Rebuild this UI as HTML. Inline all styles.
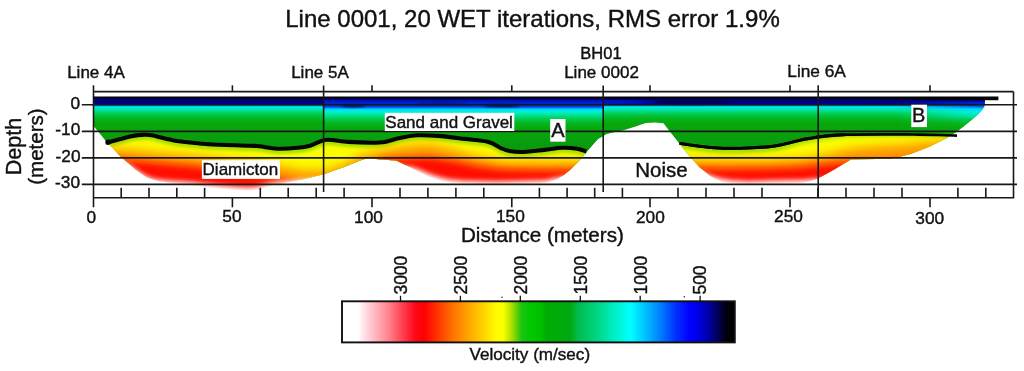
<!DOCTYPE html>
<html><head><meta charset="utf-8">
<style>
html,body{margin:0;padding:0;background:#fff;}
body{width:1024px;height:371px;overflow:hidden;position:relative;font-family:"Liberation Sans",sans-serif;}
svg{position:absolute;left:0;top:0;}
text{font-family:"Liberation Sans",sans-serif;fill:#111;stroke:#111;stroke-width:0.4px;}
svg{opacity:0.999;}
</style></head><body>
<svg width="1024" height="371" viewBox="0 0 1024 371">
<defs>
  <linearGradient id="cb" x1="0" y1="0" x2="1" y2="0">
    <stop offset="0" stop-color="#ffffff"/>
    <stop offset="0.04" stop-color="#ffffff"/>
    <stop offset="0.065" stop-color="#ffd4dc"/>
    <stop offset="0.115" stop-color="#ff8894"/>
    <stop offset="0.15" stop-color="#ff4858"/>
    <stop offset="0.186" stop-color="#ff0818"/>
    <stop offset="0.21" stop-color="#ff0000"/>
    <stop offset="0.24" stop-color="#ff3000"/>
    <stop offset="0.281" stop-color="#ff7000"/>
    <stop offset="0.311" stop-color="#ff9800"/>
    <stop offset="0.351" stop-color="#ffc800"/>
    <stop offset="0.396" stop-color="#ffff00"/>
    <stop offset="0.411" stop-color="#f8ff00"/>
    <stop offset="0.431" stop-color="#b0e000"/>
    <stop offset="0.458" stop-color="#18c410"/>
    <stop offset="0.478" stop-color="#00c800"/>
    <stop offset="0.506" stop-color="#00c000"/>
    <stop offset="0.522" stop-color="#00ac04"/>
    <stop offset="0.58" stop-color="#00a810"/>
    <stop offset="0.602" stop-color="#00bc50"/>
    <stop offset="0.654" stop-color="#00d888"/>
    <stop offset="0.695" stop-color="#00f0c8"/>
    <stop offset="0.735" stop-color="#00ffff"/>
    <stop offset="0.772" stop-color="#00c0ff"/>
    <stop offset="0.81" stop-color="#0080ff"/>
    <stop offset="0.85" stop-color="#0030ff"/>
    <stop offset="0.885" stop-color="#0000ff"/>
    <stop offset="0.9" stop-color="#0000f0"/>
    <stop offset="0.93" stop-color="#0000b0"/>
    <stop offset="0.955" stop-color="#000060"/>
    <stop offset="0.98" stop-color="#000008"/>
    <stop offset="1" stop-color="#000000"/>
  </linearGradient>
  <linearGradient id="top" x1="0" y1="96" x2="0" y2="160" gradientUnits="userSpaceOnUse">
    <stop offset="0.000" stop-color="#000070"/>
    <stop offset="0.117" stop-color="#000084"/>
    <stop offset="0.141" stop-color="#0050d8"/>
    <stop offset="0.156" stop-color="#00c0f0"/>
    <stop offset="0.180" stop-color="#00ecd8"/>
    <stop offset="0.227" stop-color="#00e098"/>
    <stop offset="0.281" stop-color="#00cc50"/>
    <stop offset="0.344" stop-color="#04b820"/>
    <stop offset="0.422" stop-color="#08a80c"/>
    <stop offset="0.609" stop-color="#08a00c"/>
    <stop offset="0.844" stop-color="#089810"/>
  </linearGradient>
  <linearGradient id="top2" x1="0" y1="96" x2="0" y2="160" gradientUnits="userSpaceOnUse">
    <stop offset="0.000" stop-color="#000070"/>
    <stop offset="0.047" stop-color="#000088"/>
    <stop offset="0.070" stop-color="#0010b0"/>
    <stop offset="0.102" stop-color="#0020d0"/>
    <stop offset="0.133" stop-color="#0028d8"/>
    <stop offset="0.169" stop-color="#0044e8"/>
    <stop offset="0.191" stop-color="#0098f4"/>
    <stop offset="0.212" stop-color="#00e0f4"/>
    <stop offset="0.250" stop-color="#00f0d0"/>
    <stop offset="0.297" stop-color="#00e490"/>
    <stop offset="0.359" stop-color="#00cc50"/>
    <stop offset="0.422" stop-color="#04b820"/>
    <stop offset="0.500" stop-color="#08a80c"/>
    <stop offset="0.656" stop-color="#08a00c"/>
    <stop offset="0.844" stop-color="#089810"/>
  </linearGradient>
  <linearGradient id="top3" x1="0" y1="96" x2="0" y2="160" gradientUnits="userSpaceOnUse">
    <stop offset="0.000" stop-color="#000070"/>
    <stop offset="0.062" stop-color="#000088"/>
    <stop offset="0.094" stop-color="#0018c0"/>
    <stop offset="0.141" stop-color="#0030e0"/>
    <stop offset="0.172" stop-color="#0078f0"/>
    <stop offset="0.203" stop-color="#00d8f8"/>
    <stop offset="0.250" stop-color="#00f0e8"/>
    <stop offset="0.312" stop-color="#00e8b0"/>
    <stop offset="0.375" stop-color="#00cc58"/>
    <stop offset="0.438" stop-color="#04b820"/>
    <stop offset="0.516" stop-color="#08a80c"/>
    <stop offset="0.656" stop-color="#08a00c"/>
  </linearGradient>
  <linearGradient id="m2g" x1="323.6" y1="0" x2="603.2" y2="0" gradientUnits="userSpaceOnUse">
    <stop offset="0" stop-color="#fff"/><stop offset="1" stop-color="#fff"/>
  </linearGradient>
  <mask id="m2" maskUnits="userSpaceOnUse" x="323" y="90" width="400" height="110"><rect x="323.6" y="90" width="279.6" height="110" fill="#fff"/></mask>
  <linearGradient id="bl2" x1="603.2" y1="0" x2="665" y2="0" gradientUnits="userSpaceOnUse">
    <stop offset="0" stop-color="#0018d0" stop-opacity="0.9"/><stop offset="0.5" stop-color="#0018d0" stop-opacity="0.7"/><stop offset="1" stop-color="#0018d0" stop-opacity="0"/>
  </linearGradient>
  <linearGradient id="m3g" x1="895" y1="0" x2="978" y2="0" gradientUnits="userSpaceOnUse">
    <stop offset="0" stop-color="#000"/><stop offset="1" stop-color="#fff"/>
  </linearGradient>
  <mask id="m3" maskUnits="userSpaceOnUse" x="860" y="90" width="140" height="110"><rect x="860" y="90" width="140" height="110" fill="url(#m3g)"/></mask>
  <linearGradient id="limeB" x1="780" y1="0" x2="870" y2="0" gradientUnits="userSpaceOnUse">
    <stop offset="0" stop-color="#a4e000" stop-opacity="1"/><stop offset="1" stop-color="#c8f000" stop-opacity="0.25"/>
  </linearGradient>
  <clipPath id="outline"><path d="M93.5,97.0 L985.0,97.8 L985.0,100.0 L984.3,106.5 L982.0,110.3 L977.9,114.4 L971.2,120.2 L962.9,126.9 L956.3,131.9 L945.8,138.4 L929.8,146.5 L911.5,153.8 L900.0,156.8 L889.6,158.7 L851.0,159.6 L833.3,170.0 L818.5,178.2 L809.6,181.2 L800.0,183.0 L773.3,184.0 L743.7,184.4 L723.0,182.3 L711.0,176.5 L699.3,167.0 L687.4,153.7 L677.0,140.4 L668.8,130.2 L663.5,123.3 L655.0,122.6 L645.6,122.9 L636.4,126.2 L623.6,130.2 L613.0,132.4 L606.7,133.9 L597.8,138.9 L589.5,148.5 L583.0,156.5 L577.1,162.7 L570.5,169.5 L564.1,174.8 L557.0,179.0 L549.6,181.8 L540.0,183.3 L500.0,184.2 L480.0,184.0 L460.0,183.3 L444.7,181.5 L428.5,176.5 L412.4,168.2 L396.2,160.5 L380.0,159.5 L368.2,158.1 L360.9,160.3 L344.7,166.8 L323.7,174.3 L304.3,179.0 L286.0,182.4 L266.7,186.5 L257.0,190.0 L247.0,190.4 L227.7,189.3 L200.0,186.0 L188.6,184.6 L173.9,183.3 L157.7,181.0 L147.0,177.5 L136.0,170.0 L128.0,163.0 L119.6,155.8 L113.2,148.6 L106.5,141.9 L101.0,135.0 L94.3,127.0 L93.5,126.0 Z"/></clipPath>
  <filter id="blur3" x="-5%" y="-30%" width="110%" height="160%"><feGaussianBlur stdDeviation="3.6"/></filter>
  <filter id="blur4" x="-5%" y="-30%" width="110%" height="160%"><feGaussianBlur stdDeviation="4.6"/></filter>
  <filter id="blur2" x="-5%" y="-30%" width="110%" height="160%"><feGaussianBlur stdDeviation="1.6"/></filter>
  <filter id="blurL" x="-5%" y="-30%" width="110%" height="160%"><feGaussianBlur stdDeviation="1.5"/></filter>
  <filter id="blurF" x="-5%" y="-30%" width="110%" height="160%"><feGaussianBlur stdDeviation="2.8"/></filter>
  <filter id="blur1" x="-5%" y="-30%" width="110%" height="160%"><feGaussianBlur stdDeviation="1.1"/></filter>
</defs>
<rect width="1024" height="371" fill="#fff"/>

<!-- titles -->
<text x="532.5" y="26.6" font-size="24" text-anchor="middle">Line 0001, 20 WET iterations, RMS error 1.9%</text>
<text x="601" y="58.9" font-size="16.5" text-anchor="middle">BH01</text>
<text x="601.5" y="77.5" font-size="17" text-anchor="middle">Line 0002</text>
<text x="96" y="77.5" font-size="17" text-anchor="middle">Line 4A</text>
<text x="320" y="77.5" font-size="17" text-anchor="middle">Line 5A</text>
<text x="816.6" y="77" font-size="17.3" text-anchor="middle">Line 6A</text>

<!-- colour field -->
<g clip-path="url(#outline)">
  <rect x="90" y="94" width="900" height="100" fill="url(#top)"/>
  <rect x="323.6" y="94" width="279.6" height="100" fill="url(#top2)"/>
  <rect x="603.2" y="100.2" width="62" height="4.2" fill="url(#bl2)"/>
  <rect x="860" y="94" width="140" height="100" fill="url(#top3)" mask="url(#m3)"/>
  <g filter="url(#blur1)" fill="#000038">
    <ellipse cx="353" cy="105.9" rx="12" ry="1.3" opacity="0.85"/>
    <ellipse cx="502" cy="105.7" rx="18" ry="1.4" opacity="0.85"/>
    <ellipse cx="442" cy="103.2" rx="26" ry="1.1" opacity="0.45"/>
    <ellipse cx="690" cy="101.5" rx="38" ry="3.2" opacity="0.45"/>
  </g>
  <g filter="url(#blur2)">
    <path d="M80.0,143.8 L106.3,143.8 L113.0,142.0 L119.6,140.2 L130.0,137.6 L138.0,136.1 L146.0,135.7 L153.0,136.4 L160.0,138.2 L170.0,140.6 L178.9,142.3 L208.5,145.2 L250.0,146.7 L259.6,147.3 L277.4,149.7 L298.0,148.8 L310.0,146.7 L318.9,143.0 L327.8,140.8 L348.5,142.9 L372.0,143.7 L384.8,142.9 L399.6,139.0 L417.4,136.3 L438.0,136.9 L464.8,139.9 L488.5,142.9 L500.4,148.8 L509.3,152.0 L523.7,153.0 L544.4,150.9 L562.2,148.8 L577.0,149.7 L586.5,152.3 L600.0,152.3 L600.0,200.0 L80.0,200.0 Z" fill="#fcfc00"/>
    <path d="M670.0,144.3 L679.5,144.3 L699.3,147.2 L723.0,149.3 L752.6,148.8 L773.3,147.2 L788.0,144.2 L800.0,141.2 L809.6,139.4 L827.4,136.9 L845.2,135.7 L883.7,135.4 L913.3,135.5 L940.0,136.0 L957.0,136.7 L975.0,136.7 L975.0,200.0 L670.0,200.0 Z" fill="#fcfc00"/>
  </g>
  <g filter="url(#blurL)" stroke="#a4e000" stroke-width="4.6" fill="none" transform="translate(0,3.0)">
    <path d="M106.3,142.8 C107.4,142.5 110.8,141.6 113.0,141.0 C115.2,140.4 116.8,139.9 119.6,139.2 C122.4,138.5 126.9,137.3 130.0,136.6 C133.1,135.9 135.3,135.4 138.0,135.1 C140.7,134.8 143.5,134.6 146.0,134.7 C148.5,134.8 150.7,135.0 153.0,135.4 C155.3,135.8 157.2,136.5 160.0,137.2 C162.8,137.9 166.8,138.9 170.0,139.6 C173.2,140.3 172.5,140.5 178.9,141.3 C185.3,142.1 196.7,143.5 208.5,144.2 C220.3,144.9 241.5,145.3 250.0,145.7 C258.5,146.0 255.0,145.8 259.6,146.3 C264.2,146.8 271.0,148.4 277.4,148.7 C283.8,148.9 292.6,148.3 298.0,147.8 C303.4,147.3 306.5,146.7 310.0,145.7 C313.5,144.7 315.9,143.0 318.9,142.0 C321.9,141.0 322.9,139.8 327.8,139.8 C332.7,139.8 341.1,141.4 348.5,141.9 C355.9,142.4 365.9,142.7 372.0,142.7 C378.1,142.7 380.2,142.7 384.8,141.9 C389.4,141.1 394.2,139.1 399.6,138.0 C405.0,136.9 411.0,135.7 417.4,135.3 C423.8,135.0 430.1,135.3 438.0,135.9 C445.9,136.5 456.4,137.9 464.8,138.9 C473.2,139.9 482.6,140.4 488.5,141.9 C494.4,143.4 496.9,146.3 500.4,147.8 C503.9,149.3 505.4,150.3 509.3,151.0 C513.2,151.7 517.9,152.2 523.7,152.0 C529.6,151.8 538.0,150.6 544.4,149.9 C550.8,149.2 556.8,148.0 562.2,147.8 C567.6,147.6 573.0,148.1 577.0,148.7 C581.0,149.3 584.9,150.9 586.5,151.3"/><path d="M679.5,143.3 C682.8,143.8 692.0,145.4 699.3,146.2 C706.5,147.0 714.1,148.0 723.0,148.3 C731.9,148.6 744.2,148.2 752.6,147.8 C761.0,147.5 767.4,147.0 773.3,146.2 C779.2,145.4 783.5,144.2 788.0,143.2 C792.5,142.2 796.4,141.0 800.0,140.2 C803.6,139.4 805.0,139.1 809.6,138.4 C814.2,137.7 821.5,136.5 827.4,135.9 C833.3,135.3 835.8,134.9 845.2,134.7 C854.6,134.4 872.4,134.4 883.7,134.4 C895.1,134.4 903.9,134.4 913.3,134.5 C922.7,134.6 932.7,134.8 940.0,135.0 C947.3,135.2 954.2,135.6 957.0,135.7" stroke="url(#limeB)"/>
  </g>
  <g filter="url(#blur4)">
    <path d="M80.0,149.0 L115.0,148.5 L128.0,149.5 L150.0,151.5 L190.0,155.0 L210.0,156.5 L230.0,159.5 L250.0,161.5 L280.0,166.0 L304.0,170.5 L328.0,170.0 L348.0,163.0 L360.0,155.0 L383.0,150.0 L407.0,145.8 L430.0,144.3 L454.0,149.5 L471.0,154.5 L490.0,158.5 L503.0,161.3 L524.0,161.5 L547.5,161.5 L571.0,161.5 L600.0,161.0 L600.0,200.0 L80.0,200.0 Z" fill="#ff9800"/>
    <path d="M670.0,159.5 L729.0,160.0 L773.0,159.5 L800.0,158.0 L827.0,154.0 L850.0,148.5 L869.0,146.5 L904.0,144.5 L928.0,142.0 L960.0,140.0 L960.0,200.0 L670.0,200.0 Z" fill="#ff9800"/>
  </g>
  <g filter="url(#blur3)">
    <path d="M80.0,159.0 L125.0,159.5 L137.0,161.0 L164.0,163.5 L194.0,166.0 L215.0,169.5 L235.0,172.5 L250.0,174.5 L280.0,178.5 L298.0,182.0 L320.0,188.0 L345.0,186.0 L360.0,168.0 L383.0,159.5 L407.0,158.0 L430.0,157.3 L454.0,161.0 L477.0,166.0 L500.0,169.0 L524.0,169.8 L547.5,170.0 L571.0,169.8 L600.0,169.0 L600.0,200.0 L80.0,200.0 Z" fill="#ff1004"/>
    <path d="M670.0,168.0 L729.0,168.5 L773.0,168.0 L800.0,167.0 L827.0,164.0 L850.0,162.0 L880.0,161.5 L905.0,160.0 L930.0,158.0 L930.0,200.0 L670.0,200.0 Z" fill="#ff1004"/>
  </g>
</g>

<g filter="url(#blurF)" stroke="#fff" stroke-width="11" fill="none" stroke-linejoin="round" stroke-linecap="round"><path d="M116.0,166.0 C117.7,166.6 123.0,168.0 126.0,169.5 C129.0,171.0 130.8,173.0 134.0,175.0 C137.2,177.0 141.3,179.8 145.0,181.5 C148.7,183.2 151.2,184.2 156.0,185.0 C160.8,185.8 168.5,186.2 173.9,186.6 C179.3,187.0 184.2,187.1 188.6,187.4 C192.9,187.7 193.5,187.9 200.0,188.6 C206.5,189.3 219.9,190.9 227.7,191.6 C235.5,192.3 242.1,192.6 247.0,192.7 C251.9,192.8 253.7,192.8 257.0,192.3 C260.3,191.8 261.9,190.5 266.7,189.5 C271.5,188.5 279.5,187.2 286.0,186.5 C292.5,185.8 300.0,185.2 305.8,185.0 C311.6,184.8 318.5,185.4 321.0,185.5"/><path d="M396.0,172.0 C397.5,172.0 402.3,172.0 405.0,172.2 C407.7,172.4 408.5,171.8 412.4,173.0 C416.3,174.2 423.1,177.6 428.5,179.5 C433.9,181.4 439.4,183.1 444.7,184.2 C449.9,185.3 454.1,185.6 460.0,186.0 C465.9,186.4 473.3,186.5 480.0,186.7 C486.7,186.8 490.0,187.0 500.0,186.9 C510.0,186.8 531.7,186.3 540.0,186.0 C548.3,185.7 546.8,185.4 549.6,185.0 C552.4,184.6 554.3,184.0 557.0,183.5 C559.7,183.0 563.0,182.2 566.0,182.0 C569.0,181.8 573.5,182.0 575.0,182.0"/><path d="M700.0,178.0 C701.8,178.6 707.2,180.4 711.0,181.5 C714.8,182.6 717.5,184.0 723.0,184.8 C728.5,185.7 735.3,186.4 743.7,186.6 C752.1,186.8 763.9,186.2 773.3,186.0 C782.7,185.8 794.0,185.7 800.0,185.5 C806.0,185.3 806.5,185.2 809.6,185.0 C812.7,184.8 815.4,184.5 818.5,184.5 C821.6,184.5 826.4,184.9 828.0,185.0"/></g>

<!-- frame and grid -->
<g stroke="#181818" stroke-width="1.6" fill="none">
  <line x1="93.5" y1="85.3" x2="93.5" y2="207.3"/>
  <line x1="93.5" y1="91.6" x2="1013.5" y2="91.6"/>
  <line x1="1013.5" y1="91.6" x2="1013.5" y2="197.7"/>
  <line x1="93.5" y1="197.7" x2="1014.2" y2="197.7"/>
  <line x1="81.8" y1="104.8" x2="1017" y2="104.8"/>
  <line x1="81.8" y1="131.4" x2="1017" y2="131.4"/>
  <line x1="81.8" y1="157.9" x2="1017" y2="157.9"/>
  <line x1="81.8" y1="184.4" x2="1017" y2="184.4"/>
</g>

<!-- interface lines -->
<g stroke="#050505" fill="none" stroke-linejoin="round" stroke-linecap="butt">
  <path d="M106.3,142.8 C107.4,142.5 110.8,141.6 113.0,141.0 C115.2,140.4 116.8,139.9 119.6,139.2 C122.4,138.5 126.9,137.3 130.0,136.6 C133.1,135.9 135.3,135.4 138.0,135.1 C140.7,134.8 143.5,134.6 146.0,134.7 C148.5,134.8 150.7,135.0 153.0,135.4 C155.3,135.8 157.2,136.5 160.0,137.2 C162.8,137.9 166.8,138.9 170.0,139.6 C173.2,140.3 172.5,140.5 178.9,141.3 C185.3,142.1 196.7,143.5 208.5,144.2 C220.3,144.9 241.5,145.3 250.0,145.7 C258.5,146.0 255.0,145.8 259.6,146.3 C264.2,146.8 271.0,148.4 277.4,148.7 C283.8,148.9 292.6,148.3 298.0,147.8 C303.4,147.3 306.5,146.7 310.0,145.7 C313.5,144.7 315.9,143.0 318.9,142.0 C321.9,141.0 322.9,139.8 327.8,139.8 C332.7,139.8 341.1,141.4 348.5,141.9 C355.9,142.4 365.9,142.7 372.0,142.7 C378.1,142.7 380.2,142.7 384.8,141.9 C389.4,141.1 394.2,139.1 399.6,138.0 C405.0,136.9 411.0,135.7 417.4,135.3 C423.8,135.0 430.1,135.3 438.0,135.9 C445.9,136.5 456.4,137.9 464.8,138.9 C473.2,139.9 482.6,140.4 488.5,141.9 C494.4,143.4 496.9,146.3 500.4,147.8 C503.9,149.3 505.4,150.3 509.3,151.0 C513.2,151.7 517.9,152.2 523.7,152.0 C529.6,151.8 538.0,150.6 544.4,149.9 C550.8,149.2 556.8,148.0 562.2,147.8 C567.6,147.6 573.0,148.1 577.0,148.7 C581.0,149.3 584.9,150.9 586.5,151.3" stroke-width="4.1"/>
  <circle cx="108" cy="142.2" r="2.6" fill="#050505" stroke="none"/>
  <path d="M679.5,143.3 C682.8,143.8 692.0,145.4 699.3,146.2 C706.5,147.0 714.1,148.0 723.0,148.3 C731.9,148.6 744.2,148.2 752.6,147.8 C761.0,147.5 767.4,147.0 773.3,146.2 C779.2,145.4 783.5,144.2 788.0,143.2 C792.5,142.2 796.4,141.0 800.0,140.2 C803.6,139.4 805.0,139.1 809.6,138.4 C814.2,137.7 821.5,136.5 827.4,135.9 C833.3,135.3 835.8,134.9 845.2,134.7 C854.6,134.4 872.4,134.4 883.7,134.4 C895.1,134.4 903.9,134.4 913.3,134.5 C922.7,134.6 932.7,134.8 940.0,135.0 C947.3,135.2 954.2,135.6 957.0,135.7" stroke-width="2.7"/>
  <path d="M679.5,143.3 C682.8,143.8 692.0,145.4 699.3,146.2 C706.5,147.0 714.1,148.0 723.0,148.3 C731.9,148.6 744.2,148.2 752.6,147.8 C761.0,147.5 767.4,147.0 773.3,146.2 C779.2,145.4 783.5,144.2 788.0,143.2 C792.5,142.2 796.4,141.0 800.0,140.2 C803.6,139.4 805.0,139.1 809.6,138.4 C814.2,137.7 821.5,136.5 827.4,135.9 C833.3,135.3 842.2,134.9 845.2,134.7" stroke-width="3.1"/>
  <path d="M93.5,96.5 L998.4,96.5 L998.4,100.2 L940,100 L860,99.1 L700,98.7 L93.5,98.6 Z" fill="#050505" stroke="none"/>
</g>

<!-- vertical cross lines -->
<g stroke="#181818" stroke-width="1.6">
  <line x1="323.6" y1="85.5" x2="323.6" y2="192"/>
  <line x1="603.2" y1="85.5" x2="603.2" y2="192"/>
  <line x1="818.2" y1="85.3" x2="818.2" y2="197.7"/>
</g>
<!-- ticks -->
<g stroke="#181818" stroke-width="1.6">
  <line x1="121.2" y1="187.8" x2="121.2" y2="197.7"/>
  <line x1="149.0" y1="187.8" x2="149.0" y2="197.7"/>
  <line x1="176.8" y1="187.8" x2="176.8" y2="197.7"/>
  <line x1="204.6" y1="187.8" x2="204.6" y2="197.7"/>
  <line x1="232.4" y1="197.7" x2="232.4" y2="207.3"/>
  <line x1="232.4" y1="85.3" x2="232.4" y2="91.3"/>
  <line x1="260.3" y1="187.8" x2="260.3" y2="197.7"/>
  <line x1="288.2" y1="187.8" x2="288.2" y2="197.7"/>
  <line x1="316.2" y1="187.8" x2="316.2" y2="197.7"/>
  <line x1="344.1" y1="187.8" x2="344.1" y2="197.7"/>
  <line x1="372.0" y1="197.7" x2="372.0" y2="207.3"/>
  <line x1="372.0" y1="85.3" x2="372.0" y2="91.3"/>
  <line x1="400.0" y1="187.8" x2="400.0" y2="197.7"/>
  <line x1="427.9" y1="187.8" x2="427.9" y2="197.7"/>
  <line x1="455.9" y1="187.8" x2="455.9" y2="197.7"/>
  <line x1="483.8" y1="187.8" x2="483.8" y2="197.7"/>
  <line x1="511.8" y1="197.7" x2="511.8" y2="207.3"/>
  <line x1="511.8" y1="85.3" x2="511.8" y2="91.3"/>
  <line x1="539.4" y1="187.8" x2="539.4" y2="197.7"/>
  <line x1="567.1" y1="187.8" x2="567.1" y2="197.7"/>
  <line x1="594.7" y1="187.8" x2="594.7" y2="197.7"/>
  <line x1="622.4" y1="187.8" x2="622.4" y2="197.7"/>
  <line x1="650.0" y1="197.7" x2="650.0" y2="207.3"/>
  <line x1="650.0" y1="85.3" x2="650.0" y2="91.3"/>
  <line x1="678.0" y1="187.8" x2="678.0" y2="197.7"/>
  <line x1="706.0" y1="187.8" x2="706.0" y2="197.7"/>
  <line x1="734.0" y1="187.8" x2="734.0" y2="197.7"/>
  <line x1="762.0" y1="187.8" x2="762.0" y2="197.7"/>
  <line x1="790.0" y1="197.7" x2="790.0" y2="207.3"/>
  <line x1="790.0" y1="85.3" x2="790.0" y2="91.3"/>
  <line x1="818.0" y1="187.8" x2="818.0" y2="197.7"/>
  <line x1="846.0" y1="187.8" x2="846.0" y2="197.7"/>
  <line x1="874.0" y1="187.8" x2="874.0" y2="197.7"/>
  <line x1="902.0" y1="187.8" x2="902.0" y2="197.7"/>
  <line x1="930.0" y1="197.7" x2="930.0" y2="207.3"/>
  <line x1="930.0" y1="85.3" x2="930.0" y2="91.3"/>
  <line x1="957.9" y1="187.8" x2="957.9" y2="197.7"/>
  <line x1="985.8" y1="187.8" x2="985.8" y2="197.7"/>

</g>
<!-- tick labels -->
<g font-size="17.3" text-anchor="middle">
  <text x="91.2" y="223.3">0</text>
  <text x="231.9" y="221.6">50</text>
  <text x="368.5" y="223.2">100</text>
  <text x="510.4" y="221.9">150</text>
  <text x="650.4" y="223.4">200</text>
  <text x="788.5" y="221.5">250</text>
  <text x="929.7" y="224.3">300</text>

</g>
<g font-size="17.3" text-anchor="end">
  <text x="80" y="108.7">0</text>
  <text x="80.3" y="134.9">-10</text>
  <text x="80.6" y="162.4">-20</text>
  <text x="80" y="188.4">-30</text>
</g>
<text x="542.4" y="242" font-size="20.65" text-anchor="middle">Distance (meters)</text>
<text transform="translate(21.3,146.6) rotate(-90)" font-size="21.5" text-anchor="middle">Depth</text>
<text transform="translate(43.2,146.6) rotate(-90)" font-size="20.5" text-anchor="middle">(meters)</text>

<!-- annotations -->
<rect x="384.8" y="112.8" width="129.5" height="18.2" fill="#fff"/>
<text x="449.1" y="127.5" font-size="17" text-anchor="middle">Sand and Gravel</text>
<rect x="201.9" y="160.2" width="78.1" height="18.7" fill="#fff"/>
<text x="240.4" y="175.1" font-size="17" text-anchor="middle">Diamicton</text>
<rect x="550.2" y="119" width="15.3" height="22.7" fill="#fff"/>
<text x="557.8" y="137.4" font-size="20" text-anchor="middle">A</text>
<rect x="911.3" y="104.7" width="15.7" height="22.4" fill="#fff"/>
<text x="918.6" y="122.2" font-size="20" text-anchor="middle">B</text>
<text x="661.4" y="177.2" font-size="20.5" text-anchor="middle">Noise</text>

<!-- colour bar -->
<rect x="342" y="301.3" width="392.8" height="41.1" fill="url(#cb)" stroke="#111" stroke-width="1.9"/>
<g stroke="#111" stroke-width="1.3">
  <line x1="400.5" y1="295.8" x2="400.5" y2="301"/>
  <line x1="460.4" y1="295.8" x2="460.4" y2="301"/>
  <line x1="520.3" y1="295.8" x2="520.3" y2="301"/>
  <line x1="580.3" y1="295.8" x2="580.3" y2="301"/>
  <line x1="640.2" y1="295.8" x2="640.2" y2="301"/>
  <line x1="700.1" y1="295.8" x2="700.1" y2="301"/>

</g>
<g font-size="17.5">
  <text transform="translate(406.8,294.6) rotate(-90)">3000</text>
  <text transform="translate(466.7,294.6) rotate(-90)">2500</text>
  <text transform="translate(526.6,294.6) rotate(-90)">2000</text>
  <text transform="translate(586.6,294.6) rotate(-90)">1500</text>
  <text transform="translate(646.5,294.6) rotate(-90)">1000</text>
  <text transform="translate(706.4,294.6) rotate(-90)">500</text>

</g>
<circle cx="502" cy="297.3" r="0.8" fill="#333"/>
<circle cx="684.3" cy="296.8" r="0.8" fill="#333"/>
<text x="529.8" y="359.7" font-size="17.1" text-anchor="middle">Velocity (m/sec)</text>
</svg>
</body></html>
